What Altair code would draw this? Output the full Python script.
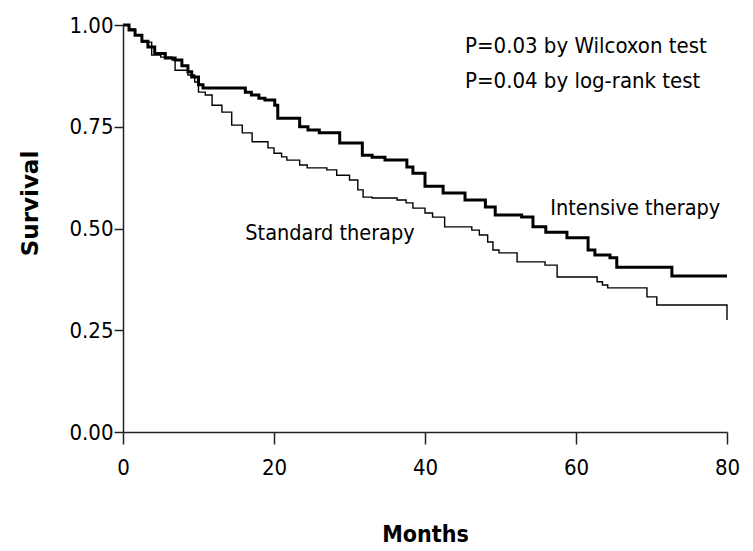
import altair as alt
import pandas as pd

# Kaplan-Meier step data (months, survival)
int_months = [0, 0.8, 1.6, 2.5, 3.3, 4.2, 5.6, 6.9, 7.8, 8.6, 9.1, 10.0, 10.6, 16.2, 17.0,
              18.0, 18.8, 20.1, 20.5, 23.4, 24.5, 26.0, 28.7, 31.7, 33.0, 34.7, 37.6, 38.4,
              40.0, 42.4, 45.3, 48.0, 49.3, 52.8, 54.3, 56.0, 58.8, 61.6, 62.5, 64.5, 65.4,
              72.7, 80.0]
int_surv = [1.0, 0.988, 0.975, 0.96, 0.946, 0.93, 0.919, 0.914, 0.90, 0.885, 0.872, 0.853,
            0.845, 0.835, 0.828, 0.82, 0.816, 0.803, 0.771, 0.75, 0.742, 0.735, 0.71, 0.68,
            0.675, 0.668, 0.651, 0.636, 0.604, 0.587, 0.57, 0.553, 0.533, 0.528, 0.504,
            0.491, 0.477, 0.447, 0.435, 0.428, 0.405, 0.383, 0.383]

std_months = [0, 0.8, 1.6, 2.5, 3.8, 5.0, 6.5, 6.9, 8.6, 9.5, 10.0, 10.9, 11.8, 13.1, 14.4,
              15.8, 17.1, 19.2, 20.0, 21.0, 21.7, 23.4, 24.4, 27.0, 28.3, 30.0, 31.1, 31.8,
              33.0, 36.3, 37.5, 38.4, 40.0, 41.0, 42.6, 46.2, 47.2, 48.3, 49.0, 49.8, 52.2,
              55.9, 57.5, 62.8, 63.5, 64.2, 69.4, 70.7, 80.0]
std_surv = [1.0, 0.99, 0.975, 0.958, 0.926, 0.921, 0.914, 0.889, 0.877, 0.86, 0.835, 0.828,
            0.803, 0.786, 0.754, 0.735, 0.713, 0.698, 0.685, 0.676, 0.668, 0.656, 0.649,
            0.644, 0.631, 0.619, 0.595, 0.577, 0.575, 0.57, 0.563, 0.55, 0.538, 0.528, 0.504,
            0.496, 0.484, 0.467, 0.447, 0.44, 0.418, 0.41, 0.381, 0.369, 0.361, 0.354, 0.332,
            0.312, 0.275]

x_ticks = [0, 20, 40, 60, 80]
y_ticks = [0.0, 0.25, 0.5, 0.75, 1.0]

label_texts = ["Standard therapy", "Intensive therapy",
               "P=0.03 by Wilcoxon test", "P=0.04 by log-rank test"]
label_months = [16.2, 56.6, 45.3, 45.3]
label_surv = [0.472, 0.533, 0.931, 0.845]
label_sizes = [21.5, 21.5, 22, 22]

NARROW = "DejaVu Sans Condensed, DejaVu Sans, sans-serif"

df_int = pd.DataFrame({"month": int_months, "surv": int_surv})
df_std = pd.DataFrame({"month": std_months, "surv": std_surv})
df_lab = pd.DataFrame({"text": label_texts, "month": label_months,
                       "surv": label_surv, "size": label_sizes})

x_enc = alt.X("month:Q", scale=alt.Scale(domain=[0, 80], nice=False),
              axis=alt.Axis(values=x_ticks, title="Months", format="d",
                            titleFont=NARROW, titleFontSize=23, titleFontWeight="bold",
                            titleColor="black", titleY=109, titleBaseline="alphabetic",
                            labelFont=NARROW, labelFontSize=22, labelColor="black",
                            labelFlush=False, labelOverlap=False,
                            labelPadding=13, tickSize=12, tickColor="#222", domainColor="#222",
                            domainWidth=1.5, tickWidth=1.5, grid=False))
y_enc = alt.Y("surv:Q", scale=alt.Scale(domain=[0, 1], nice=False),
              axis=alt.Axis(values=y_ticks, title="Survival", format=".2f",
                            titleFont="DejaVu Sans", titleFontSize=23, titleFontWeight="bold",
                            titleColor="black", titleX=-86, titleY=178, titleAngle=270,
                            titleBaseline="alphabetic", titleAlign="center",
                            labelFont=NARROW, labelFontSize=22, labelColor="black",
                            labelFlush=False, labelOverlap=False,
                            labelPadding=1, tickSize=9, tickColor="#222", domainColor="#222",
                            domainWidth=1.5, tickWidth=1.5, grid=False))

std_line = alt.Chart(df_std).mark_line(interpolate="step-after", color="black",
                                       strokeWidth=1.4).encode(x=x_enc, y=y_enc)
int_line = alt.Chart(df_int).mark_line(interpolate="step-after", color="black",
                                       strokeWidth=3).encode(x="month:Q", y="surv:Q")
labels = alt.Chart(df_lab).mark_text(align="left", baseline="alphabetic", font=NARROW,
                                     color="black").encode(
    x="month:Q", y="surv:Q", text="text:N",
    size=alt.Size("size:Q", scale=None, legend=None))

chart = alt.layer(std_line, int_line, labels).properties(
    width=604, height=407,
    autosize=alt.AutoSizeParams(type="none"),
    padding={"left": 115, "top": 17, "right": 18, "bottom": 117},
    background="white",
).configure_view(stroke=None)

chart.save("out.html", embed_options={"renderer": "svg", "actions": False})
